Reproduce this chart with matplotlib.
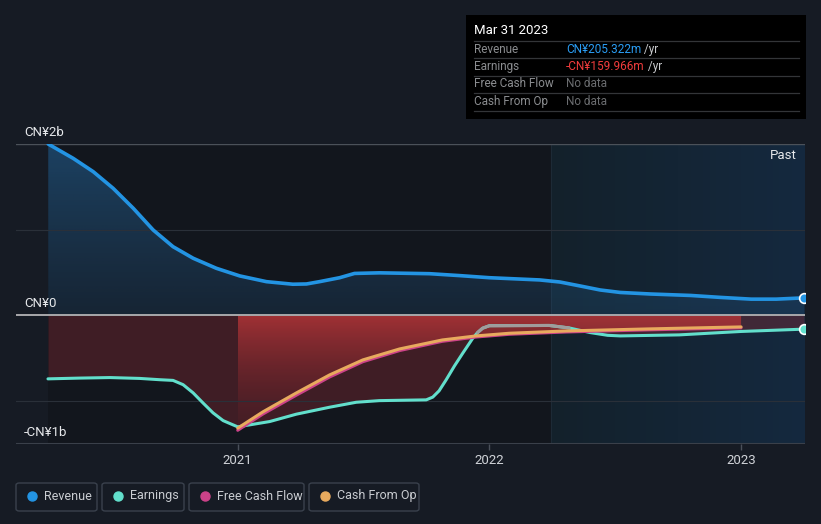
import matplotlib
matplotlib.use("Agg")
import matplotlib.pyplot as plt
import numpy as np
from matplotlib.patches import Rectangle, FancyBboxPatch
from matplotlib.lines import Line2D
import matplotlib.colors as mcolors

plt.rcParams['font.family'] = ['Roboto', 'DejaVu Sans']

# ---------------- data (values in CN¥ billions, time in decimal years) -------------
rev_t = [2020.247, 2020.346, 2020.426, 2020.505, 2020.585, 2020.664, 2020.743, 2020.823,
         2020.915, 2021.008, 2021.114, 2021.219, 2021.273, 2021.325, 2021.405, 2021.464,
         2021.563, 2021.762, 2021.88, 2022.0, 2022.2, 2022.28, 2022.36, 2022.44, 2022.52,
         2022.64, 2022.8, 2022.92, 2023.04, 2023.14, 2023.25]
rev_v = [2.0, 1.833, 1.677, 1.483, 1.25, 0.997, 0.802, 0.667, 0.55, 0.461, 0.394, 0.364,
         0.367, 0.394, 0.44, 0.49, 0.497, 0.487, 0.465, 0.44, 0.414, 0.39, 0.344, 0.297,
         0.268, 0.25, 0.233, 0.21, 0.19, 0.19, 0.205]

earn_t = [2020.246, 2020.373, 2020.492, 2020.611, 2020.69, 2020.743, 2020.783, 2020.823,
          2020.862, 2020.902, 2020.942, 2020.968, 2021.0, 2021.127, 2021.233, 2021.365,
          2021.471, 2021.563, 2021.749, 2021.775, 2021.80, 2021.828, 2021.861, 2021.894,
          2021.934, 2021.953, 2021.973, 2022.0, 2022.238, 2022.317, 2022.40, 2022.47,
          2022.52, 2022.754, 2023.0, 2023.25]
earn_v = [-0.74, -0.731, -0.725, -0.735, -0.75, -0.758, -0.808, -0.904, -1.021, -1.137,
          -1.227, -1.26, -1.30, -1.238, -1.152, -1.071, -1.013, -0.994, -0.985, -0.953,
          -0.88, -0.752, -0.59, -0.441, -0.266, -0.2, -0.149, -0.12, -0.117, -0.146,
          -0.2, -0.232, -0.239, -0.227, -0.187, -0.16]
gray_from, gray_to = 2021.94, 2022.36

cfo_t = [2021.0, 2021.1, 2021.233, 2021.365, 2021.497, 2021.643, 2021.813, 2021.947,
         2022.079, 2022.306, 2022.635, 2023.0]
cfo_v = [-1.315, -1.125, -0.904, -0.694, -0.519, -0.391, -0.286, -0.239, -0.208, -0.181,
         -0.157, -0.134]

fcf_t = [2021.0, 2021.1, 2021.233, 2021.365, 2021.497, 2021.643, 2021.813, 2021.947,
         2022.079, 2022.306, 2022.635, 2023.0]
fcf_v = [-1.34, -1.15, -0.93, -0.718, -0.54, -0.41, -0.302, -0.252, -0.22, -0.193,
         -0.168, -0.145]

y_ticks = [2.0, 0.0, -1.0]
y_tick_labels = ["CN¥2b", "CN¥0", "-CN¥1b"]
x_ticks = [2021, 2022, 2023]
x_tick_labels = ["2021", "2022", "2023"]

tooltip_date = "Mar 31 2023"
tooltip_rows = [("Revenue", "CN¥205.322m", " /yr"),
                ("Earnings", "-CN¥159.966m", " /yr"),
                ("Free Cash Flow", "No data", ""),
                ("Cash From Op", "No data", "")]
legend_names = ["Revenue", "Earnings", "Free Cash Flow", "Cash From Op"]

# ---------------- style -------------
BG = "#161b24"
C_REV = "#2394e3"
C_EARN = "#62dfcc"
C_FCF = "#cc4289"
C_CFO = "#e8aa5e"
past_start = 2022.246

W, H = 821, 524
fig = plt.figure(figsize=(W / 100, H / 100), dpi=100, facecolor=BG)
ax = fig.add_axes([16 / W, 1 - 444 / H, (805 - 16) / W, (444 - 144) / H])
ax.set_facecolor(BG)
x0, x1 = 2020.119, 2023.254
y0, y1 = -1.5, 2.0
ax.set_xlim(x0, x1)
ax.set_ylim(y0, y1)
for s in ax.spines.values():
    s.set_visible(False)


def grad_img(ax, extent, c_top, c_bot, a_top, a_bot, horizontal=False, zorder=1, clip=None):
    n = 256
    ct = np.array(mcolors.to_rgb(c_top))
    cb = np.array(mcolors.to_rgb(c_bot))
    f = np.linspace(0, 1, n)
    img = np.zeros((n, 2, 4)) if not horizontal else np.zeros((2, n, 4))
    if not horizontal:
        for i, fi in enumerate(f):  # row 0 = top
            img[i, :, :3] = ct * (1 - fi) + cb * fi
            img[i, :, 3] = a_top * (1 - fi) + a_bot * fi
    else:
        for i, fi in enumerate(f):  # col 0 = left
            img[:, i, :3] = ct * (1 - fi) + cb * fi
            img[:, i, 3] = a_top * (1 - fi) + a_bot * fi
    im = ax.imshow(img, extent=extent, origin='upper', aspect='auto', zorder=zorder,
                   interpolation='bilinear')
    if clip is not None:
        im.set_clip_path(clip.get_paths()[0], transform=ax.transData)
    return im


# darker region before "past" zone
ax.add_patch(Rectangle((rev_t[0], y0), past_start - rev_t[0], y1 - y0,
                       facecolor="#12161d", edgecolor="none", zorder=0.5))
# past zone with horizontal gradient
grad_img(ax, [past_start, x1, y0, y1], "#13212b", "#15293f", 1.0, 1.0,
         horizontal=True, zorder=0.6)
ax.axvline(past_start, color="#1d2a36", lw=0.8, zorder=0.7)

# revenue fill
poly = ax.fill_between(rev_t, 0, rev_v, color="none", lw=0)
grad_img(ax, [rev_t[0], rev_t[-1], 0, 2.0], "#2a7fc4", "#2a6aa0", 0.42, 0.18,
         zorder=1, clip=poly)

# earnings fill (dark red)
ax.fill_between(earn_t, 0, earn_v, color="#8a2a33", alpha=0.38, lw=0, zorder=1.1)

# FCF fill (bright red gradient)
poly2 = ax.fill_between(fcf_t, 0, fcf_v, color="none", lw=0)
grad_img(ax, [fcf_t[0], fcf_t[-1], -1.34, 0], "#b33538", "#6a2228", 0.85, 0.1,
         zorder=1.2, clip=poly2)

# gridlines
ax.axhline(2.0, color="#4b5159", lw=1, zorder=1.5)
ax.axhline(1.0, color="#2a3039", lw=0.8, zorder=1.5)
ax.axhline(-1.0, color="#2a3039", lw=0.8, zorder=1.5)
ax.axhline(0.0, color="#a8a8ab", lw=1.4, zorder=3)
ax.axhline(-1.5, color="#3a404a", lw=1.5, zorder=3)

# lines
kw = dict(solid_capstyle='round', solid_joinstyle='round')
ax.plot(rev_t, rev_v, color=C_REV, lw=2.6, zorder=5, **kw)
ax.plot(earn_t, earn_v, color=C_EARN, lw=2.2, zorder=4.5, **kw)
gt = [t for t in earn_t if gray_from <= t <= gray_to]
gv = [v for t, v in zip(earn_t, earn_v) if gray_from <= t <= gray_to]
ax.plot(gt, gv, color="#a09c9c", lw=2.2, zorder=4.6, **kw)
ax.plot(fcf_t, fcf_v, color=C_FCF, lw=2.2, zorder=4.7, **kw)
ax.plot(cfo_t, cfo_v, color=C_CFO, lw=2.2, zorder=4.8, **kw)

# end markers
ax.plot([rev_t[-1]], [rev_v[-1]], 'o', ms=7, color=C_REV, mec="white", mew=1.2, zorder=6)
ax.plot([earn_t[-1]], [earn_v[-1]], 'o', ms=7, color=C_EARN, mec="white", mew=1.2, zorder=6)

# ticks
ax.set_xticks(x_ticks)
ax.set_xticklabels(x_tick_labels)
ax.tick_params(axis='x', colors="#4a505a", length=4, width=1, labelcolor="#d0d3d8",
               labelsize=9.5, pad=3)
ax.set_yticks([])

# y labels
for v, lab in zip(y_ticks, y_tick_labels):
    yy = v + 12 / 85.75 if v != -1.0 else -1.0 - 31 / 85.75
    ax.text(2020.15, yy, lab, color="#e6e8eb", fontsize=9.5, va='center', ha='left',
            zorder=7, clip_on=False)
ax.text(2023.22, 2.0 - 12 / 85.75, "Past", color="#e6e8eb", fontsize=9.5, va='center',
        ha='right', zorder=7)

# ---------------- tooltip -------------
def fx(px):
    return px / W


def fy(py):
    return 1 - py / H


fig.patches.append(Rectangle((fx(466), fy(119)), fx(806) - fx(466), fy(15) - fy(119),
                             transform=fig.transFigure, facecolor="#000000",
                             edgecolor="none", zorder=10))
fig.text(fx(474), fy(31), tooltip_date, color="#ffffff", fontsize=9.5, va='center',
         ha='left', zorder=11)
for yl in [41, 58, 76, 93, 111]:
    fig.lines.append(Line2D([fx(474), fx(799)], [fy(yl), fy(yl)], transform=fig.transFigure,
                            color="#333538", lw=0.9, zorder=11))
row_y = [49.5, 66.5, 84, 101.5]
val_colors = ["#2a9df4", "#f03c3c", "#6b6d70", "#6b6d70"]
for (lab, val, suf), yy, vc in zip(tooltip_rows, row_y, val_colors):
    fig.text(fx(474), fy(yy), lab, color="#8b8d90", fontsize=8.5, va='center', ha='left',
             zorder=11)
    t = fig.text(fx(566), fy(yy), val, color=vc, fontsize=8.5, va='center', ha='left',
                 zorder=11)
    if suf:
        fig.canvas.draw()
        bb = t.get_window_extent()
        fig.text(bb.x1 / W, fy(yy), suf, color="#c8cacd", fontsize=8.5, va='center',
                 ha='left', zorder=11)

# ---------------- legend -------------
boxes = [(16, 97), (102, 184), (189, 304), (309, 419)]
dot_colors = [C_REV, C_EARN, C_FCF, C_CFO]
for (bx0, bx1), name, dc in zip(boxes, legend_names, dot_colors):
    fig.patches.append(FancyBboxPatch((fx(bx0), fy(511)), fx(bx1) - fx(bx0),
                                      fy(483) - fy(511),
                                      boxstyle="round,pad=0,rounding_size=0.004",
                                      transform=fig.transFigure, facecolor="none",
                                      edgecolor="#3a414d", lw=1, zorder=10))
    fig.lines.append(Line2D([fx(bx0 + 16)], [fy(496)], transform=fig.transFigure,
                            marker='o', ms=6.5, color=dc, lw=0, zorder=11))
    fig.text(fx(bx0 + 28), fy(496), name, color="#c9ccd1", fontsize=9, va='center',
             ha='left', zorder=11)

fig.savefig("out.png", dpi=100, facecolor=BG)
